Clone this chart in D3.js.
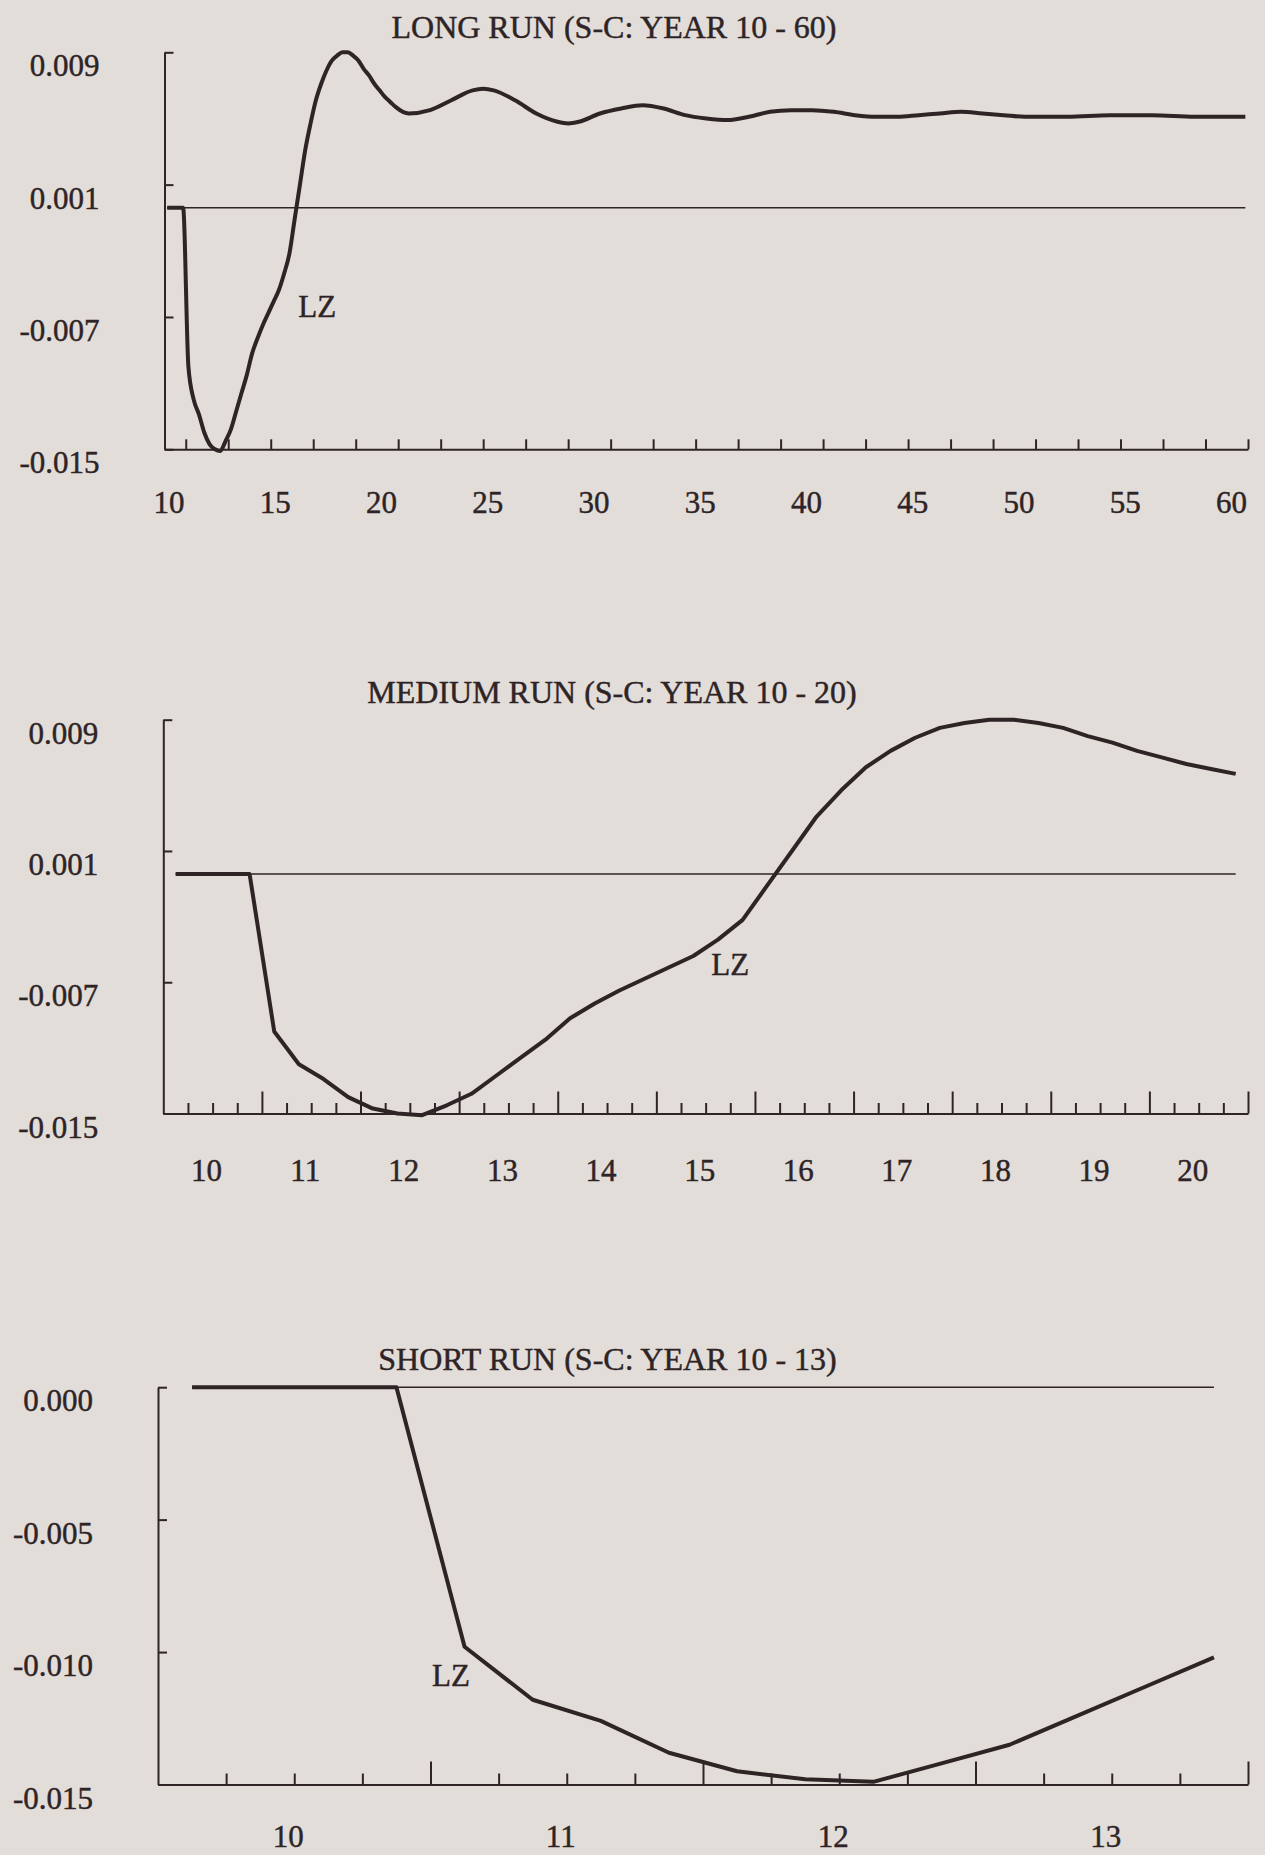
<!DOCTYPE html>
<html lang="en">
<head>
  <meta charset="utf-8">
  <title>LZ: long, medium and short run</title>
  <script src="https://d3js.org/d3.v7.min.js"></script>
  <style>
    body { margin: 0; background: #e2ddd9; }
    svg { display: block; }
    text { font-family: "Liberation Serif", "Times New Roman", serif; fill: #2e2426; stroke: #2e2426; stroke-width: 0.45px; }
  </style>
</head>
<body>
<div id="chart"></div>
<script>
  // quarterly results, plotted at the middle of each quarter
  var quarterYears = [10.125, 10.375, 10.625, 10.875, 11.125, 11.375, 11.625, 11.875,
    12.125, 12.375, 12.625, 12.875, 13.125, 13.375, 13.625, 13.875,
    14.125, 14.375, 14.625, 14.875, 15.125, 15.375, 15.625, 15.875,
    16.125, 16.375, 16.625, 16.875, 17.125, 17.375, 17.625, 17.875,
    18.125, 18.375, 18.625, 18.875, 19.125, 19.375, 19.625, 19.875,
    20.125, 20.375, 20.625, 20.875];

  var mediumRunValues = [0, 0, 0, 0, -0.0096, -0.0116, -0.0125, -0.0136,
    -0.0143, -0.0146, -0.0147, -0.0141, -0.0134, -0.0123, -0.0112, -0.0101,
    -0.0088, -0.0079, -0.0071, -0.0064, -0.0057, -0.0050, -0.0040, -0.0028,
    -0.0007, 0.0014, 0.0035, 0.0051, 0.0065, 0.0075, 0.0083, 0.0089,
    0.0092, 0.0094, 0.0094, 0.0092, 0.0089, 0.0084, 0.0080, 0.0075,
    0.0071, 0.0067, 0.0064, 0.0061];

  var shortRunYears = quarterYears.slice(0, 16);
  var shortRunValues = [0, 0, 0, 0, -0.0098, -0.0118, -0.0126, -0.0138,
    -0.0145, -0.0148, -0.0149, -0.0142, -0.0135, -0.0124, -0.0113, -0.0102];

  // rest of the long run
  var longTailYears = [21.5, 22.5, 23.5, 24.5, 25, 25.5, 26.5, 27.5, 28.5, 29, 29.5,
    30.5, 31.5, 32.5, 33.5, 34.5, 35.5, 36.5, 37.5, 38.5, 39.5, 40.5, 41.5, 42.5,
    43.5, 44.5, 45.5, 46.5, 47.5, 48.5, 49.5, 50.5, 52.5, 54.5, 56.5, 58.5, 60.875];
  var longTailValues = [0.0057, 0.0059, 0.0065, 0.0071, 0.0072, 0.0071, 0.0065, 0.0057,
    0.0052, 0.0051, 0.0052, 0.0057, 0.0060, 0.0062, 0.0060, 0.0056, 0.0054, 0.0053,
    0.0055, 0.0058, 0.0059, 0.0059, 0.0058, 0.0056, 0.0055, 0.0055, 0.0056, 0.0057,
    0.0058, 0.0057, 0.0056, 0.0055, 0.0055, 0.0056, 0.0056, 0.0055, 0.0055];

  var longYTicks = [-0.0146, -0.0066, 0.0014, 0.0094];
  var shortYTicks = [-0.015, -0.010, -0.005, 0.000];

  var longXLabels = [10, 15, 20, 25, 30, 35, 40, 45, 50, 55, 60];
  var mediumXLabels = [10, 11, 12, 13, 14, 15, 16, 17, 18, 19, 20];
  var shortXLabels = [10, 11, 12, 13];

  var ink = "#2e2426";
  var fmt = d3.formatLocale({decimal: ".", thousands: ",", grouping: [3],
    currency: ["", ""], minus: "-"}).format(".3f");

  var svg = d3.select("#chart").append("svg")
    .attr("width", 1265)
    .attr("height", 1855);

  function drawPanel(p) {
    var x = d3.scaleLinear().domain(p.xDomain).range([p.left, p.right]);
    var y = d3.scaleLinear().domain(p.yDomain).range([p.bottom, p.top]);
    var g = svg.append("g");

    g.append("text")
      .attr("x", p.titleX)
      .attr("y", p.titleY)
      .attr("text-anchor", "middle")
      .style("font-size", "32px")
      .text(p.title);

    // y axis with inward ticks
    var ya = g.append("g")
      .attr("transform", "translate(" + p.left + ",0)")
      .call(d3.axisLeft(y).tickValues(p.yTicks).tickSize(-9).tickSizeOuter(0).tickFormat(""));
    ya.selectAll("path, line").attr("stroke", ink).attr("stroke-width", 2);

    g.selectAll(".ylab")
      .data(p.yTicks)
      .enter().append("text")
      .attr("class", "ylab")
      .attr("x", p.left - 65)
      .attr("y", function (d) { return y(d) + 24; })
      .attr("text-anchor", "end")
      .style("font-size", "31px")
      .text(fmt);

    // x axis: major ticks, then minor ticks
    var xa = g.append("g")
      .attr("transform", "translate(0," + p.bottom + ")")
      .call(d3.axisBottom(x).tickValues(p.majors).tickSize(-p.majorLen).tickSizeOuter(0).tickFormat(""));
    xa.selectAll("path, line").attr("stroke", ink).attr("stroke-width", 2);

    if (p.minors.length) {
      var xm = g.append("g")
        .attr("transform", "translate(0," + p.bottom + ")")
        .call(d3.axisBottom(x).tickValues(p.minors).tickSize(-p.minorLen).tickFormat(""));
      xm.select(".domain").remove();
      xm.selectAll("line").attr("stroke", ink).attr("stroke-width", 2);
    }

    // year labels sit in the middle of each year
    g.selectAll(".xlab")
      .data(p.labels)
      .enter().append("text")
      .attr("class", "xlab")
      .attr("x", function (d) { return x(d + 0.5) - 6; })
      .attr("y", p.bottom + p.labelGap)
      .attr("text-anchor", "middle")
      .style("font-size", "31px")
      .text(function (d) { return d; });

    // zero line
    g.append("line")
      .attr("x1", x(p.years[0]))
      .attr("x2", x(p.years[p.years.length - 1]))
      .attr("y1", y(0))
      .attr("y2", y(0))
      .attr("stroke", ink)
      .attr("stroke-width", 1.6);

    var line = d3.line()
      .x(function (d) { return x(d[0]); })
      .y(function (d) { return y(d[1]); })
      .curve(p.curve);

    g.append("path")
      .datum(d3.zip(p.years, p.values))
      .attr("d", line)
      .attr("fill", "none")
      .attr("stroke", ink)
      .attr("stroke-width", 4)
      .attr("stroke-linejoin", "round");

    g.append("text")
      .attr("x", x(p.lz[0]))
      .attr("y", y(p.lz[1]))
      .attr("text-anchor", "middle")
      .style("font-size", "31px")
      .text("LZ");
  }

  drawPanel({
    title: "LONG RUN (S-C: YEAR 10 - 60)", titleX: 614, titleY: 38,
    left: 164.5, right: 1248, top: 52.3, bottom: 449.3,
    xDomain: [10, 61], yDomain: [-0.0146, 0.0094], yTicks: longYTicks,
    majors: d3.range(11, 62, 2), majorLen: 10, minors: [], minorLen: 0,
    labels: longXLabels, labelGap: 64,
    years: quarterYears.concat(longTailYears),
    values: mediumRunValues.concat(longTailValues),
    curve: d3.curveMonotoneX,
    lz: [17.19, -0.00658]
  });

  drawPanel({
    title: "MEDIUM RUN (S-C: YEAR 10 - 20)", titleX: 612, titleY: 703,
    left: 163.3, right: 1248, top: 719.7, bottom: 1113.5,
    xDomain: [10, 21], yDomain: [-0.0146, 0.0094], yTicks: longYTicks,
    majors: d3.range(11, 22), majorLen: 22,
    minors: d3.range(10.25, 21, 0.25).filter(function (d) { return d % 1 !== 0; }), minorLen: 10.5,
    labels: mediumXLabels, labelGap: 67,
    years: quarterYears, values: mediumRunValues,
    curve: d3.curveLinear,
    lz: [15.75, -0.00616]
  });

  drawPanel({
    title: "SHORT RUN (S-C: YEAR 10 - 13)", titleX: 607.5, titleY: 1369.5,
    left: 158, right: 1248, top: 1387.2, bottom: 1784.5,
    xDomain: [10, 14], yDomain: [-0.015, 0], yTicks: shortYTicks,
    majors: d3.range(11, 15), majorLen: 23,
    minors: d3.range(10.25, 14, 0.25).filter(function (d) { return d % 1 !== 0; }), minorLen: 11,
    labels: shortXLabels, labelGap: 62,
    years: shortRunYears, values: shortRunValues,
    curve: d3.curveLinear,
    lz: [11.075, -0.01128]
  });
</script>
</body>
</html>
